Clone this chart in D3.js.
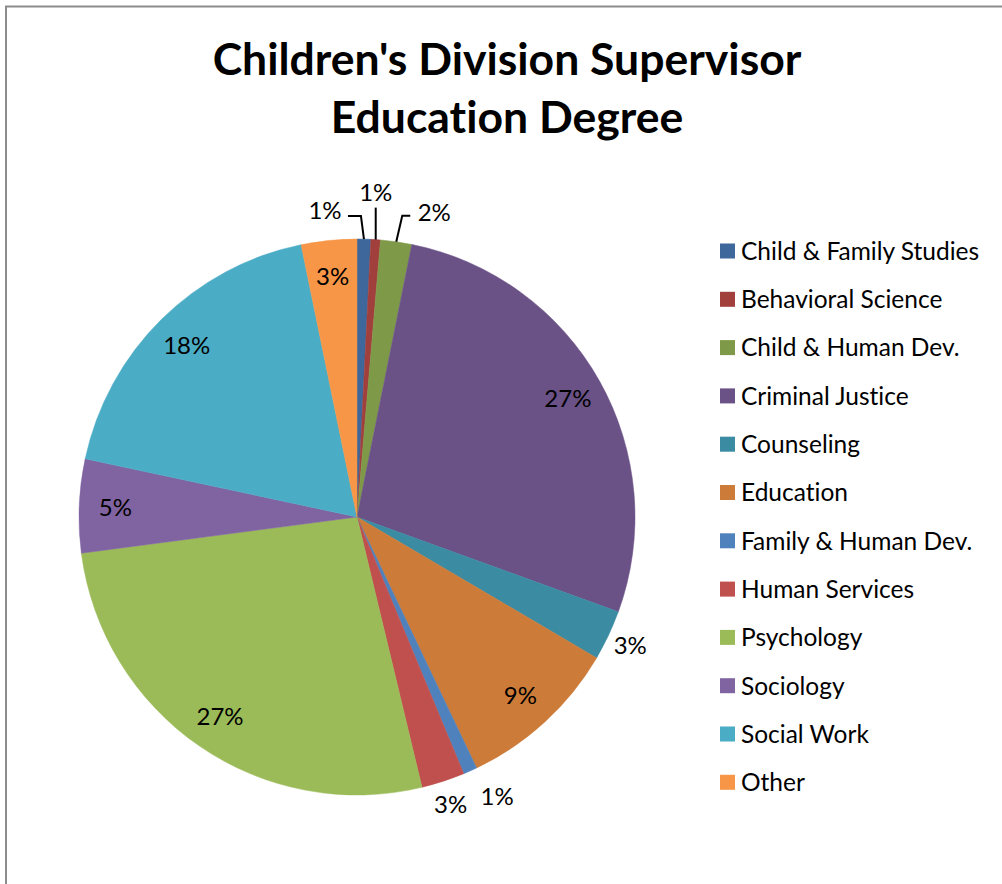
<!DOCTYPE html>
<html>
<head>
<meta charset="utf-8">
<script src="https://cdn.jsdelivr.net/npm/d3@7"></script>
<style>
  html, body { margin: 0; padding: 0; background: #fff; }
  svg { display: block; }
  text { font-family: Lato, "Open Sans", sans-serif; fill: #000; font-variant-ligatures: none; }
</style>
</head>
<body>
<svg id="chart" width="1002" height="884"></svg>
<script>
// Degree fields, in legend / slice order (clockwise from 12 o'clock)
const categories = [
  "Child & Family Studies", "Behavioral Science", "Child & Human Dev.",
  "Criminal Justice", "Counseling", "Education", "Family & Human Dev.",
  "Human Services", "Psychology", "Sociology", "Social Work", "Other"
];
// Share of supervisors (percent)
const shares = [0.79, 0.55, 1.8, 27.2, 2.9, 9.4, 0.8, 2.5, 26.5, 5.4, 18.3, 3.2];
const colors = [
  "#3e679b", "#a13f3d", "#7e9a48", "#6a5186", "#3b8ca3", "#cd7b38",
  "#4f81bd", "#c0504d", "#9bbb59", "#8064a2", "#4bacc6", "#f79646"
];
const titleLines = ["Children's Division Supervisor", "Education Degree"];

const svg = d3.select("#chart");
const W = 1002, H = 884;

// chart frame (open on the right and bottom)
svg.append("path")
  .attr("d", `M6,${H + 2}V6.5H${W + 2}`)
  .attr("fill", "none").attr("stroke", "#8c8c8c").attr("stroke-width", 2);

// title
svg.append("g").selectAll("text").data(titleLines).join("text")
  .attr("x", 507).attr("y", (d, i) => 75 + i * 58)
  .attr("text-anchor", "middle")
  .style("font-weight", "bold").style("font-size", "44.5px")
  .text(d => d);

const data = categories.map((c, i) => ({ name: c, value: shares[i], color: colors[i] }));
const total = d3.sum(data, d => d.value);
const pct = d => d3.format(".0f")(d.value / total * 100) + "%";

const cx = 357, cy = 517, R = 278;
const pie = d3.pie().value(d => d.value).sort(null);
const arcs = pie(data);
const arc = d3.arc().innerRadius(0).outerRadius(R);

const g = svg.append("g").attr("transform", `translate(${cx},${cy})`);
g.selectAll("path.slice").data(arcs).join("path")
  .attr("class", "slice")
  .attr("d", arc)
  .attr("fill", d => d.data.color)
  .attr("stroke", d => d.data.color).attr("stroke-width", 0.5);

const mid = d => (d.startAngle + d.endAngle) / 2;
const polar = (a, r) => [r * Math.sin(a), -r * Math.cos(a)];
const labelSize = 24;

// crowded slivers get shifted labels; the ones at the top also get leader lines
const callouts = {
  "Child & Family Studies": { dx: -39, dy: -29, side: "left" },
  "Behavioral Science": { dx: 0, dy: -47, side: "up" },
  "Child & Human Dev.": { dx: 38, dy: -29, side: "right" },
  "Family & Human Dev.": { dx: 27, dy: 26, side: "none" }
};

const labels = g.append("g");
const addLabel = (x, y, d) => labels.append("text")
  .attr("x", x).attr("y", y).attr("dy", "0.35em")
  .attr("text-anchor", "middle").style("font-size", labelSize + "px").text(pct(d));

arcs.forEach(d => {
  const share = d.data.value / total;
  const a = mid(d);
  const co = callouts[d.data.name];
  if (co) {
    const [px, py] = polar(a, R);
    const lx = px + co.dx, ly = py + co.dy;
    addLabel(lx, ly, d);
    let pts = null;
    if (co.side === "left") pts = [[px, py], [px - 3, ly + 6], [lx + 23, ly + 6]];
    else if (co.side === "right") pts = [[px, py], [px + 6, ly + 3], [lx - 24, ly + 3]];
    else if (co.side === "up") pts = [[px, py], [px, ly + 15]];
    if (pts) labels.append("path").attr("d", d3.line()(pts))
      .attr("fill", "none").attr("stroke", "#000").attr("stroke-width", 2);
  } else if (share < 0.03) {
    const [x, y] = polar(a, R + 24);
    addLabel(x, y, d);
  } else {
    const [x, y] = polar(a, R * 0.87);
    addLabel(x, y, d);
  }
});

// legend
const legend = svg.append("g").attr("transform", "translate(720,251)");
const item = legend.selectAll("g").data(data).join("g")
  .attr("transform", (d, i) => `translate(0,${i * 48.3})`);
item.append("rect").attr("x", 0).attr("y", -7.5).attr("width", 15).attr("height", 15)
  .attr("fill", d => d.color);
item.append("text").attr("x", 21).attr("y", 0).attr("dy", "0.36em")
  .style("font-size", "24.5px").text(d => d.name);
</script>
</body>
</html>
